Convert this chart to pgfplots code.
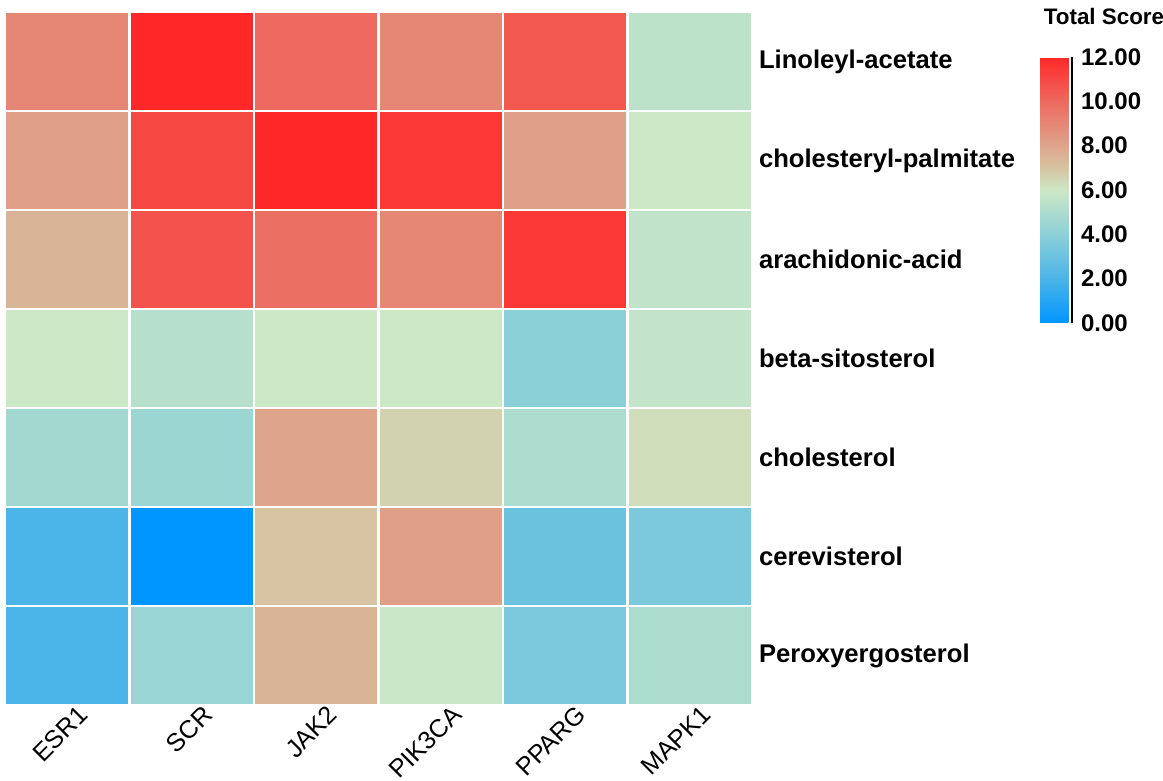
\documentclass[border=0pt]{standalone}
\usepackage{pgfplots}
\pgfplotsset{compat=1.18}
\usepackage{fontspec}
\setmainfont{Liberation Sans}
\begin{document}
\begin{tikzpicture}
\pgfplotsset{
  colormap={heat}{rgb255(0)=(0,150,255) rgb255(2)=(75,180,232) rgb255(4)=(140,208,215) rgb255(6)=(205,232,198) rgb255(7)=(214,196,162) rgb255(8)=(222,165,140) rgb255(10)=(238,105,95) rgb255(12)=(255,40,40)}
}
\begin{axis}[
  name=main,
  at={(0,0)}, anchor=south west,
  scale only axis,
  width=373.5pt, height=346.5pt,
  xmin=-0.5, xmax=5.5, ymin=-0.5, ymax=6.5,
  y dir=reverse,
  axis line style={draw=none},
  tick style={draw=none},
  xtick={0,...,5},
  xticklabels={ESR1,SCR,JAK2,PIK3CA,PPARG,MAPK1},
  xticklabel style={font=\fontsize{12.6}{14}\selectfont, rotate=45, anchor=north east, inner sep=1pt, yshift=-2pt, xshift=5pt},
  ytick={0,...,6},
  yticklabels={Linoleyl-acetate,cholesteryl-palmitate,arachidonic-acid,beta-sitosterol,cholesterol,cerevisterol,Peroxyergosterol},
  yticklabel pos=right,
  yticklabel style={font=\fontsize{12.8}{15}\selectfont\bfseries, anchor=west, xshift=0pt},
  colormap name=heat,
  point meta min=0, point meta max=12,
  colorbar,
  colorbar shift/.style={xshift=144pt, yshift=-22.5pt},
  colorbar style={
    at={(parent axis.north east)}, anchor=north west,
    width=16pt, height=133pt,
    scale only axis,
    axis x line=none,
    axis y line*=right,
    y axis line style={black, line width=0.9pt},
    ytick={0,2,...,12},
    ytick style={black, line width=0.9pt},
    tick align=outside,
    major tick length=4pt,
    yticklabel style={font=\fontsize{12}{14}\selectfont\bfseries, xshift=-3pt, /pgf/number format/.cd, fixed, fixed zerofill, precision=2, assume math mode=true},
    title={Total Score},
    title style={font=\fontsize{11.2}{14}\selectfont\bfseries, at={(2.0,1)}, anchor=base, yshift=10pt},
  },
]
\addplot[matrix plot*, mesh/cols=6, point meta=explicit, draw=white, line width=1.2pt] table[meta=c] {
x y c
0 0 9.0
1 0 12.0
2 0 10.0
3 0 9.0
4 0 10.5
5 0 5.5
0 1 8.2
1 1 11.0
2 1 12.0
3 1 11.5
4 1 8.2
5 1 6.0
0 2 7.5
1 2 10.7
2 2 9.8
3 2 9.0
4 2 11.5
5 2 5.6
0 3 6.0
1 3 5.3
2 3 6.0
3 3 6.0
4 3 4.0
5 3 5.7
0 4 4.7
1 4 4.5
2 4 8.0
3 4 6.6
4 4 5.0
5 4 6.3
0 5 2.0
1 5 0.0
2 5 7.0
3 5 8.2
4 5 3.0
5 5 3.5
0 6 2.0
1 6 4.4
2 6 7.5
3 6 5.9
4 6 3.5
5 6 5.0
};
\end{axis}
\pgfresetboundingbox
\path[use as bounding box] ([xshift=-2.5pt,yshift=-38pt]main.south west) rectangle ([xshift=-2.5pt+581.5pt,yshift=6pt]main.north west);
\end{tikzpicture}
\end{document}
